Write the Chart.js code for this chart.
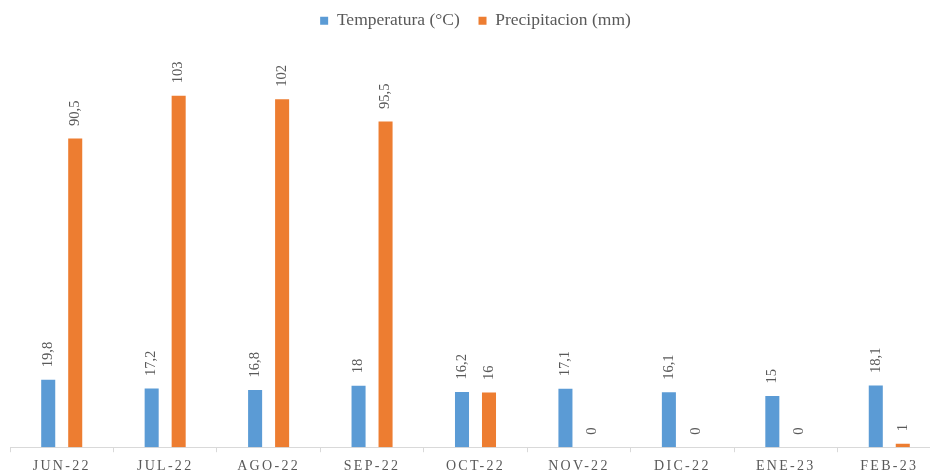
<!DOCTYPE html>
<html><head><meta charset="utf-8">
<script src="https://cdn.jsdelivr.net/npm/chart.js@4.4.0/dist/chart.umd.min.js"></script>
<style>html,body{margin:0;padding:0;background:#fff;overflow:hidden;width:930px;height:475px}
#wrap{width:942px;height:481px}</style></head>
<body><div id="wrap"><canvas id="c" width="942" height="481"></canvas></div>
<script>
const categories = ['JUN-22','JUL-22','AGO-22','SEP-22','OCT-22','NOV-22','DIC-22','ENE-23','FEB-23'];
const temperatura = [19.8, 17.2, 16.8, 18, 16.2, 17.1, 16.1, 15, 18.1];
const precipitacion = [90.5, 103, 102, 95.5, 16, 0, 0, 0, 1];
const seriesNames = ['Temperatura (°C)', 'Precipitacion (mm)'];
const seriesColors = ['#5B9BD5', '#ED7D31'];
const fmt = v => String(v).replace('.', ',');
const SERIF = '"Liberation Serif", "Times New Roman", serif';

const valueLabels = {
  id: 'valueLabels',
  afterDatasetsDraw(chart) {
    const ctx = chart.ctx;
    ctx.save();
    ctx.font = '14.5px ' + SERIF;
    ctx.fillStyle = '#595959';
    ctx.textAlign = 'left';
    ctx.textBaseline = 'middle';
    chart.data.datasets.forEach((ds, i) => {
      const meta = chart.getDatasetMeta(i);
      meta.data.forEach((bar, j) => {
        ctx.save();
        ctx.translate(bar.x, bar.y - 12.5);
        ctx.rotate(-Math.PI / 2);
        ctx.fillText(fmt(ds.data[j]), 0, 0);
        ctx.restore();
      });
    });
    ctx.restore();
    ctx.letterSpacing = '2.3px';
  },
  afterDraw(chart) { chart.ctx.letterSpacing = '0px'; }
};

Chart.defaults.font.family = SERIF;
Chart.defaults.color = '#595959';

new Chart(document.getElementById('c'), {
  type: 'bar',
  data: {
    labels: categories,
    datasets: [
      { label: seriesNames[0], data: temperatura, backgroundColor: seriesColors[0] },
      { label: seriesNames[1], data: precipitacion, backgroundColor: seriesColors[1] }
    ]
  },
  options: {
    responsive: false,
    animation: false,
    events: [],
    categoryPercentage: 0.522,
    barPercentage: 0.52,
    layout: { padding: { left: 10, right: 1, top: 2, bottom: 0 } },
    plugins: {
      legend: {
        position: 'top',
        labels: {
          boxWidth: 8, boxHeight: 8, color: '#595959', font: { size: 17.5 }, padding: 10,
          generateLabels(chart) {
            const items = Chart.defaults.plugins.legend.labels.generateLabels(chart);
            items.forEach((it, k) => { if (k < items.length - 1) it.text = it.text + '  '; });
            return items;
          }
        }
      },
      tooltip: { enabled: false }
    },
    scales: {
      x: {
        offset: true,
        grid: { display: true, drawOnChartArea: false, drawTicks: true, tickLength: 5, color: '#d9d9d9', offset: true },
        border: { color: '#d9d9d9', width: 1 },
        ticks: { color: '#595959', font: { size: 14 }, padding: 6, z: 1, maxRotation: 0, autoSkip: false }
      },
      y: { display: false, min: 0, max: 119.5 }
    }
  },
  plugins: [valueLabels]
});
</script></body></html>
